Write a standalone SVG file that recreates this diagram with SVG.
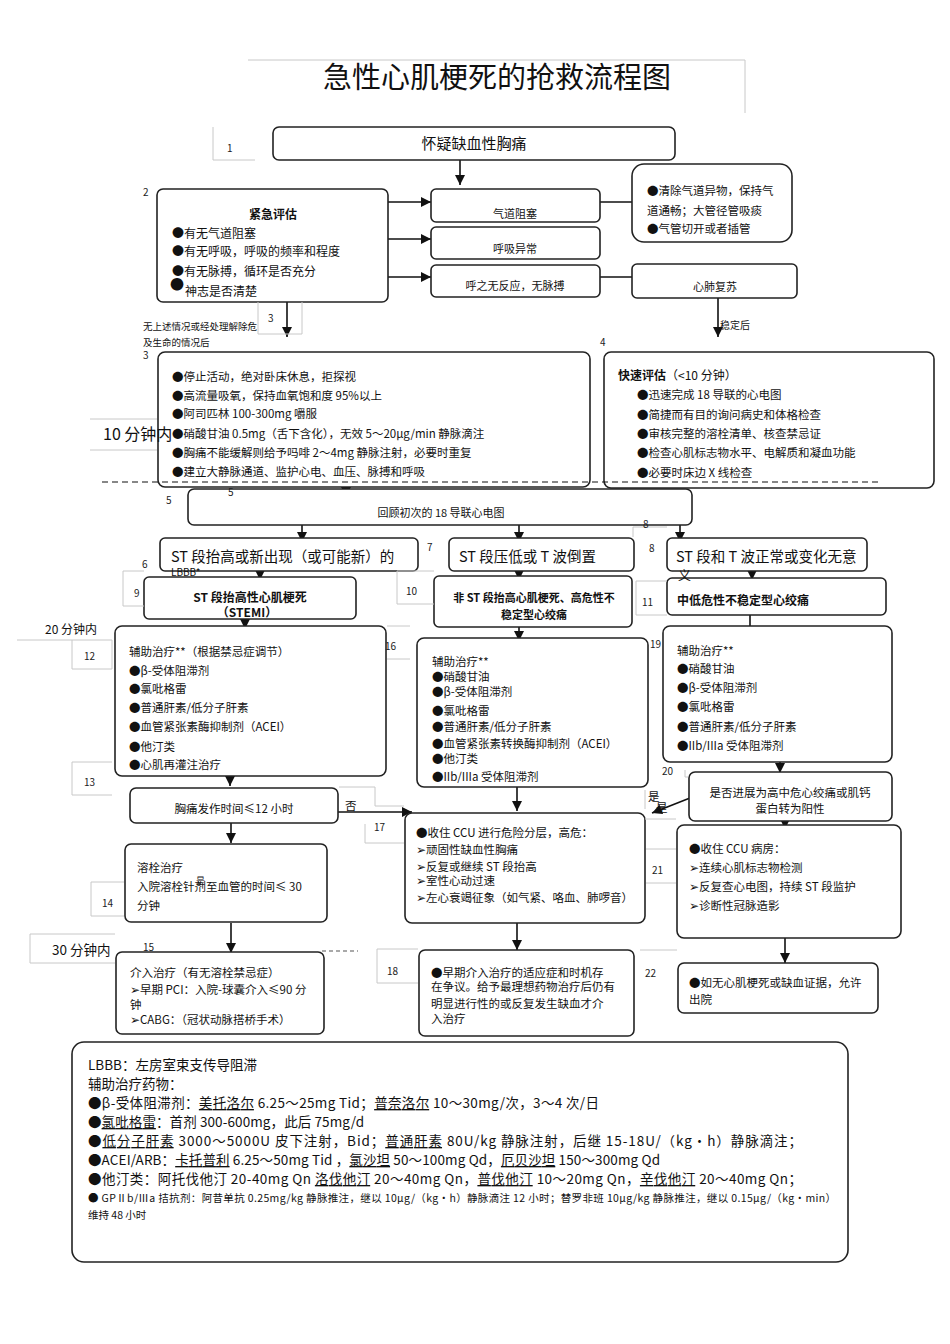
<svg xmlns="http://www.w3.org/2000/svg" width="950" height="1344" viewBox="0 0 950 1344">
<style>
text{font-family:"Noto Sans CJK SC","Liberation Sans",sans-serif;fill:#111}
.box{fill:#fff;stroke:#222;stroke-width:1.6}
.g{fill:none;stroke:#c8c8c8;stroke-width:1}
.c{fill:none;stroke:#111;stroke-width:1.6}
.n{font-size:10px;fill:#222}
.t12{font-size:12px}
.t11{font-size:11px}
.t115{font-size:11.5px}
.t14{font-size:14.5px}
.b{font-weight:bold}
.m{text-anchor:middle}
.f{font-size:13.5px}
.u{text-decoration:underline}
</style>
<defs>
<marker id="ah" markerWidth="10" markerHeight="10" refX="10" refY="5" orient="auto" markerUnits="userSpaceOnUse" viewBox="0 0 10 10">
<path d="M0,0 L10,5 L0,10 z" fill="#111"/>
</marker>
</defs>
<rect width="950" height="1344" fill="#fff"/>

<g id="title">
<path class="g" d="M248,60 H745 V113"/>
<text x="497" y="88" class="m" style="font-size:29px">急性心肌梗死的抢救流程图</text>
</g>

<g id="connectors">
<path class="c" d="M460,160 V185" marker-end="url(#ah)"/>
<path class="c" d="M373,202 H431" marker-end="url(#ah)"/>
<path class="c" d="M373,239 H431" marker-end="url(#ah)"/>
<path class="c" d="M373,277 H431" marker-end="url(#ah)"/>
<path class="c" d="M589,202 H643" marker-end="url(#ah)"/>
<path class="c" d="M589,277 H643" marker-end="url(#ah)"/>
<path class="c" d="M718,298 V337" marker-end="url(#ah)"/>
<path class="c" d="M287,302 V337" marker-end="url(#ah)"/>
<path class="c" d="M346,472 V497" marker-end="url(#ah)"/>
<path class="c" d="M302,525 V542" marker-end="url(#ah)"/>
<path class="c" d="M519,525 V542" marker-end="url(#ah)"/>
<path class="c" d="M680,525 V542" marker-end="url(#ah)"/>
<path class="c" d="M260,558 V580" marker-end="url(#ah)"/>
<path class="c" d="M519,558 V580" marker-end="url(#ah)"/>
<path class="c" d="M752,558 V580" marker-end="url(#ah)"/>
<path class="c" d="M245,612 V629" marker-end="url(#ah)"/>
<path class="c" d="M519,627 V641" marker-end="url(#ah)"/>
<path class="c" d="M750,614 V640" marker-end="url(#ah)"/>
<path class="c" d="M230,762 V786" marker-end="url(#ah)"/>
<path class="c" d="M517,787 V811" marker-end="url(#ah)"/>
<path class="c" d="M780,744 V773" marker-end="url(#ah)"/>
<path class="c" d="M337,812 H412" marker-end="url(#ah)"/>
<path class="c" d="M231,810 V843" marker-end="url(#ah)"/>
<path class="c" d="M690,798 L652,813" marker-end="url(#ah)"/>
<path class="c" d="M785,812 V829" marker-end="url(#ah)"/>
<path class="c" d="M231,923 V953" marker-end="url(#ah)"/>
<path class="c" d="M517,923 V950" marker-end="url(#ah)"/>
<path class="c" d="M785,938 V963" marker-end="url(#ah)"/>
<text x="345" y="810" class="t115">否</text>
<text x="648" y="801" class="t115">是</text>
<text x="656" y="812" class="t115">是</text>
<text x="720" y="329" style="font-size:10px">稳定后</text>
<text x="143" y="330" style="font-size:9.5px">无上述情况或经处理解除危</text>
<text x="143" y="346" style="font-size:9.5px">及生命的情况后</text>
</g>

<g id="n1">
<rect class="box" x="273" y="127" width="402" height="33" rx="6"/>
<text x="474" y="149" class="m" style="font-size:15px">怀疑缺血性胸痛</text>
</g>

<g id="n2">
<rect class="box" x="157" y="189" width="231" height="113" rx="6"/>
<text x="273" y="219" class="m t12 b">紧急评估</text>
<text x="172" y="238" class="t12">●有无气道阻塞</text>
<text x="172" y="256" class="t12">●有无呼吸，呼吸的频率和程度</text>
<text x="172" y="276" class="t12">●有无脉搏，循环是否充分</text>
<text x="170" y="289" style="font-size:14px">●</text>
<text x="185" y="296" class="t12">神志是否清楚</text>
</g>

<g id="n2a">
<rect class="box" x="431" y="189" width="169" height="33" rx="5"/>
<text x="515" y="218" class="m t11">气道阻塞</text>
</g>
<g id="n2b">
<rect class="box" x="431" y="227" width="169" height="32" rx="5"/>
<text x="515" y="253" class="m t11">呼吸异常</text>
</g>
<g id="n2c">
<rect class="box" x="431" y="265" width="169" height="32" rx="5"/>
<text x="515" y="290" class="m t11">呼之无反应，无脉搏</text>
</g>
<g id="n2d">
<rect class="box" x="632" y="164" width="160" height="78" rx="12"/>
<text x="647" y="195" class="t115">●清除气道异物，保持气</text>
<text x="647" y="215" class="t115">道通畅；大管径管吸痰</text>
<text x="647" y="233" class="t115">●气管切开或者插管</text>
</g>
<g id="n2e">
<rect class="box" x="632" y="264" width="165" height="34" rx="5"/>
<text x="715" y="291" class="m t11">心肺复苏</text>
</g>

<g id="n3">
<rect class="box" x="158" y="352" width="432" height="135" rx="7"/>
<text x="172" y="381" class="t115">●停止活动，绝对卧床休息，拒探视</text>
<text x="172" y="400" class="t115">●高流量吸氧，保持血氧饱和度 95%以上</text>
<text x="172" y="418" class="t115">●阿司匹林 100-300mg 嚼服</text>
<text x="172" y="438" class="t115">●硝酸甘油 0.5mg（舌下含化），无效 5～20μg/min 静脉滴注</text>
<text x="172" y="457" class="t115">●胸痛不能缓解则给予吗啡 2～4mg 静脉注射，必要时重复</text>
<text x="172" y="476" class="t115">●建立大静脉通道、监护心电、血压、脉搏和呼吸</text>
</g>

<g id="n4">
<rect class="box" x="604" y="352" width="330" height="136" rx="7"/>
<text x="618" y="380" class="t12"><tspan class="b">快速评估</tspan>（&lt;10 分钟）</text>
<text x="637" y="399" class="t115">●迅速完成 18 导联的心电图</text>
<text x="637" y="419" class="t115">●简捷而有目的询问病史和体格检查</text>
<text x="637" y="438" class="t115">●审核完整的溶栓清单、核查禁忌证</text>
<text x="637" y="457" class="t115">●检查心肌标志物水平、电解质和凝血功能</text>
<text x="637" y="477" class="t115">●必要时床边 X 线检查</text>
</g>

<g id="n5">
<rect class="box" x="188" y="489" width="504" height="36" rx="6"/>
<text x="441" y="517" class="m t11">回顾初次的 18 导联心电图</text>
</g>

<g id="n9">
<rect class="box" x="144" y="577" width="212" height="42" rx="5"/>
<text x="250" y="602" class="m t12 b">ST 段抬高性心肌梗死</text>
<text x="247" y="617" class="m t12 b">（STEMI）</text>
</g>
<g id="n10">
<rect class="box" x="434" y="576" width="198" height="51" rx="5"/>
<text x="534" y="602" class="m t11 b">非 ST 段抬高心肌梗死、高危性不</text>
<text x="534" y="619" class="m t11 b">稳定型心绞痛</text>
</g>
<g id="n11">
<rect class="box" x="667" y="578" width="219" height="37" rx="5"/>
<text x="677" y="605" class="t12 b">中低危性不稳定型心绞痛</text>
</g>

<g id="n6">
<rect class="box" x="160" y="538" width="258" height="33" rx="5"/>
<text x="171" y="562" class="t14">ST  段抬高或新出现（或可能新）的</text>
<text x="171" y="576" style="font-size:10px">LBBB*</text>
</g>
<g id="n7">
<rect class="box" x="449" y="538" width="185" height="33" rx="5"/>
<text x="459" y="562" class="t14">ST 段压低或 T 波倒置</text>
</g>
<g id="n8">
<rect class="box" x="667" y="538" width="200" height="33" rx="5"/>
<text x="676" y="562" class="t14">ST 段和 T 波正常或变化无意</text>
<text x="678" y="580" style="font-size:13px">义</text>
</g>

<g id="n12">
<rect class="box" x="115" y="626" width="271" height="150" rx="7"/>
<text x="129" y="656" class="t115">辅助治疗**（根据禁忌症调节）</text>
<text x="129" y="675" class="t115">●β-受体阻滞剂</text>
<text x="129" y="693" class="t115">●氯吡格雷</text>
<text x="129" y="712" class="t115">●普通肝素/低分子肝素</text>
<text x="129" y="731" class="t115">●血管紧张素酶抑制剂（ACEI）</text>
<text x="129" y="751" class="t115">●他汀类</text>
<text x="129" y="769" class="t115">●心肌再灌注治疗</text>
</g>

<g id="n16">
<rect class="box" x="417" y="638" width="231" height="149" rx="7"/>
<text x="432" y="666" class="t115">辅助治疗**</text>
<text x="432" y="681" class="t115">●硝酸甘油</text>
<text x="432" y="696" class="t115">●β-受体阻滞剂</text>
<text x="432" y="715" class="t115">●氯吡格雷</text>
<text x="432" y="731" class="t115">●普通肝素/低分子肝素</text>
<text x="432" y="748" class="t115">●血管紧张素转换酶抑制剂（ACEI）</text>
<text x="432" y="763" class="t115">●他汀类</text>
<text x="432" y="781" class="t115">●IIb/IIIa 受体阻滞剂</text>
</g>

<g id="n19">
<rect class="box" x="663" y="626" width="229" height="136" rx="7"/>
<text x="677" y="655" class="t115">辅助治疗**</text>
<text x="677" y="673" class="t115">●硝酸甘油</text>
<text x="677" y="692" class="t115">●β-受体阻滞剂</text>
<text x="677" y="711" class="t115">●氯吡格雷</text>
<text x="677" y="731" class="t115">●普通肝素/低分子肝素</text>
<text x="677" y="750" class="t115">●IIb/IIIa 受体阻滞剂</text>
</g>

<g id="n13">
<rect class="box" x="130" y="788" width="208" height="35" rx="6"/>
<text x="234" y="813" class="m t115">胸痛发作时间≤12 小时</text>
</g>

<g id="n20">
<rect class="box" x="689" y="772" width="203" height="49" rx="6"/>
<text x="790" y="797" class="m t115">是否进展为高中危心绞痛或肌钙</text>
<text x="790" y="813" class="m t115">蛋白转为阳性</text>
</g>

<g id="n14">
<rect class="box" x="125" y="844" width="202" height="78" rx="6"/>
<text x="137" y="872" class="t115">溶栓治疗</text>
<text x="137" y="891" class="t115">入院溶栓针剂至血管的时间≤  30</text>
<text x="196" y="884" style="font-size:9px">是</text>
<text x="137" y="910" class="t115">分钟</text>
</g>

<g id="n17">
<rect class="box" x="405" y="813" width="240" height="110" rx="7"/>
<text x="416" y="837" class="t115">●收住 CCU 进行危险分层，高危：</text>
<text x="416" y="854" class="t115">➢顽固性缺血性胸痛</text>
<text x="416" y="871" class="t115">➢反复或继续 ST 段抬高</text>
<text x="416" y="885" class="t115">➢室性心动过速</text>
<text x="416" y="902" class="t115">➢左心衰竭征象（如气紧、咯血、肺啰音）</text>
</g>

<g id="n21">
<rect class="box" x="677" y="825" width="224" height="113" rx="7"/>
<text x="689" y="853" class="t115">●收住 CCU 病房：</text>
<text x="689" y="872" class="t115">➢连续心肌标志物检测</text>
<text x="689" y="891" class="t115">➢反复查心电图，持续 ST 段监护</text>
<text x="689" y="910" class="t115">➢诊断性冠脉造影</text>
</g>

<g id="n15">
<rect class="box" x="116" y="952" width="208" height="82" rx="6"/>
<text x="130" y="977" class="t115">介入治疗（有无溶栓禁忌症）</text>
<text x="130" y="994" class="t115">➢早期 PCI：入院-球囊介入≤90 分</text>
<text x="130" y="1009" class="t115">钟</text>
<text x="130" y="1024" class="t115">➢CABG：（冠状动脉搭桥手术）</text>
</g>

<g id="n18">
<rect class="box" x="419" y="950" width="215" height="86" rx="6"/>
<text x="431" y="977" class="t115">●早期介入治疗的适应症和时机存</text>
<text x="431" y="991" class="t115">在争议。给予最理想药物治疗后仍有</text>
<text x="431" y="1008" class="t115">明显进行性的或反复发生缺血才介</text>
<text x="431" y="1023" class="t115">入治疗</text>
</g>

<g id="n22">
<rect class="box" x="678" y="963" width="200" height="50" rx="6"/>
<text x="689" y="987" class="t115">●如无心肌梗死或缺血证据，允许</text>
<text x="689" y="1004" class="t115">出院</text>
</g>

<g id="notes">
<rect class="box" x="72" y="1042" width="776" height="220" rx="12"/>
<text x="88" y="1070" class="f">LBBB：左房室束支传导阻滞</text>
<text x="88" y="1089" class="f">辅助治疗药物：</text>
<text x="88" y="1108" class="f" textLength="511">●β-受体阻滞剂：<tspan class="u">美托洛尔</tspan> 6.25～25mg Tid；<tspan class="u">普奈洛尔</tspan> 10～30mg/次，3～4 次/日</text>
<text x="88" y="1127" class="f" textLength="276">●<tspan class="u">氯吡格雷</tspan>：首剂 300-600mg，此后 75mg/d</text>
<text x="88" y="1146" class="f" textLength="714">●<tspan class="u">低分子肝素</tspan> 3000～5000U 皮下注射，Bid；<tspan class="u">普通肝素</tspan> 80U/kg 静脉注射，后继 15-18U/（kg・h）静脉滴注；</text>
<text x="88" y="1165" class="f" textLength="572">●ACEI/ARB：<tspan class="u">卡托普利</tspan> 6.25～50mg Tid ，<tspan class="u">氯沙坦</tspan> 50～100mg Qd，<tspan class="u">厄贝沙坦</tspan>  150～300mg Qd</text>
<text x="88" y="1184" class="f" textLength="714">●他汀类：阿托伐他汀 20-40mg Qn <tspan class="u">洛伐他汀</tspan> 20～40mg Qn，<tspan class="u">普伐他汀</tspan>  10～20mg Qn，<tspan class="u">辛伐他汀</tspan> 20～40mg Qn；</text>
<text x="88" y="1202" style="font-size:10.5px" textLength="748">● GPⅡb/Ⅲa 拮抗剂：阿昔单抗 0.25mg/kg 静脉推注，继以 10μg/（kg・h）静脉滴注 12 小时；替罗非班 10μg/kg 静脉推注，继以 0.15μg/（kg・min）</text>
<text x="88" y="1219" style="font-size:10.5px">维持 48 小时</text>
</g>

<g id="labels">
<path class="g" d="M213,127 V160 H255"/>
<text x="227" y="152" class="n">1</text>
<text x="143" y="196" class="n">2</text>
<path class="g" d="M258,302 V334 H302 V302"/>
<text x="268" y="322" class="n">3</text>
<text x="143" y="359" class="n">3</text>
<text x="600" y="346" class="n">4</text>
<text x="166" y="504" class="n">5</text>
<text x="228" y="496" class="n">5</text>
<text x="142" y="568" class="n">6</text>
<text x="427" y="551" class="n">7</text>
<path class="g" d="M633,527 V537 M633,527 H667"/>
<text x="643" y="528" class="n">8</text>
<text x="649" y="552" class="n">8</text>
<path class="g" d="M144,571 H123 V606 H144"/>
<text x="134" y="597" class="n">9</text>
<path class="g" d="M434,571 H397 V604 H434"/>
<text x="406" y="595" class="n">10</text>
<path class="g" d="M667,581 H636 V615 H667"/>
<text x="642" y="606" class="n">11</text>
<path class="g" d="M17,640 H112 M72,640 V669 H112 V640"/>
<text x="84" y="660" class="n">12</text>
<path class="g" d="M387,626 H410 M387,659 H410"/>
<text x="385" y="650" class="n">16</text>
<path class="g" d="M112,762 H72 V795 H112"/>
<text x="84" y="786" class="n">13</text>
<path class="g" d="M339,787 H375 V806 H404 M365,824 V843 H404"/>
<text x="374" y="831" class="n">17</text>
<text x="650" y="648" class="n">19</text>
<path class="g" d="M685,770 V777 H688 M645,790 V809 M645,819 H676"/>
<text x="662" y="775" class="n">20</text>
<path class="g" d="M646,849 H676 M646,883 H676"/>
<text x="652" y="874" class="n">21</text>
<path class="g" d="M124,882 H91 V916 H124"/>
<text x="102" y="907" class="n">14</text>
<path class="g" d="M30,934 H115 M30,934 V963 H115"/>
<text x="52" y="955" style="font-size:13.5px">30 分钟内</text>
<text x="143" y="951" class="n">15</text>
<path d="M322,951 H358" fill="none" stroke="#555" stroke-width="1.2" stroke-dasharray="4,3"/>
<path class="g" d="M418,949 H377 V983 H418"/>
<text x="387" y="975" class="n">18</text>
<path class="g" d="M640,950 H677"/>
<text x="645" y="977" class="n">22</text>
<path class="g" d="M90,419 H157 M90,450 H157"/>
<text x="103" y="440" style="font-size:16px">10 分钟内</text>
<text x="45" y="634" class="t12">20 分钟内</text>
<path d="M102,482 H878" fill="none" stroke="#111" stroke-width="1.2" stroke-dasharray="6,4"/>
</g>
</svg>
